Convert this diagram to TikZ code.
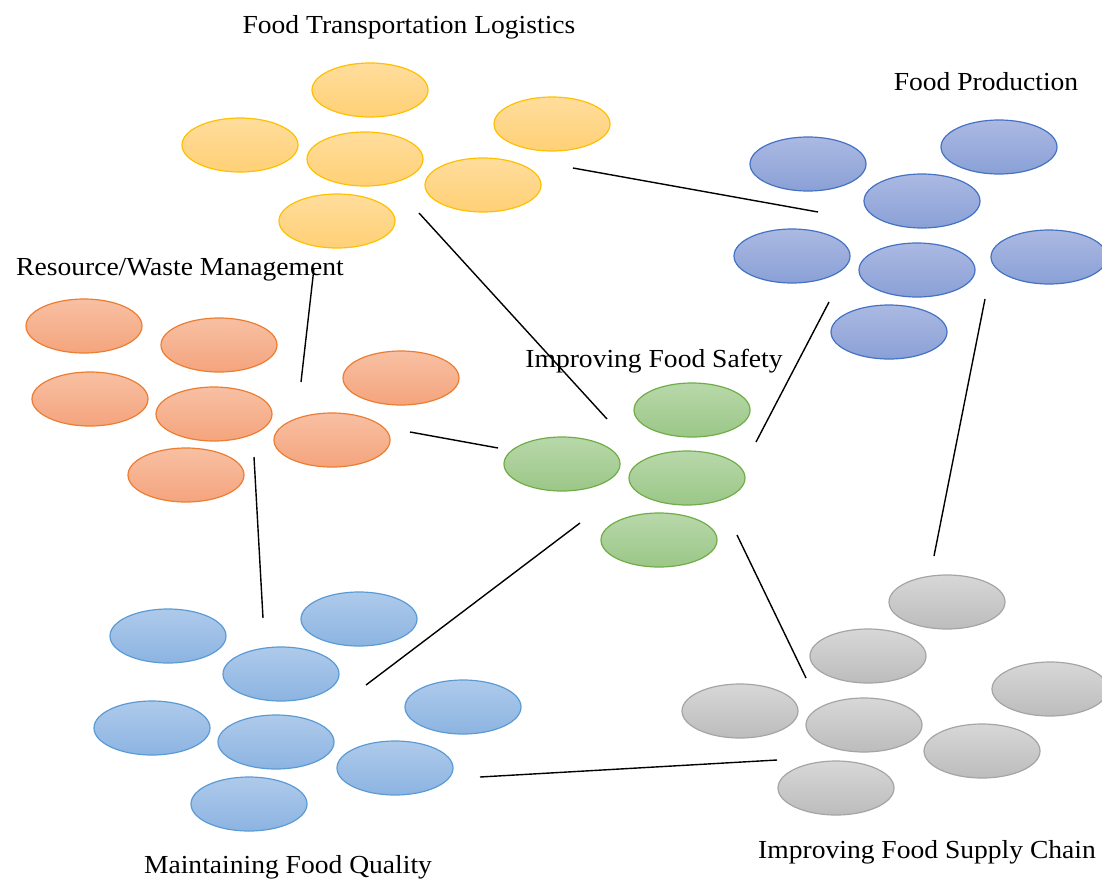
\documentclass[tikz,border=0pt]{standalone}
\usepackage{fontspec}
\setmainfont{Liberation Serif}
\newfontfamily\clusterfont[FakeStretch=1.06]{Liberation Serif}
\usepackage{xcolor}
\usepackage{tikz}
\usetikzlibrary{shapes.geometric}

\definecolor{transTop}{RGB}{255,221,156}
\definecolor{transBot}{RGB}{255,208,118}
\definecolor{transLine}{RGB}{255,192,0}
\definecolor{prodTop}{RGB}{171,185,226}
\definecolor{prodBot}{RGB}{138,160,214}
\definecolor{prodLine}{RGB}{68,114,196}
\definecolor{wasteTop}{RGB}{248,192,163}
\definecolor{wasteBot}{RGB}{244,164,125}
\definecolor{wasteLine}{RGB}{237,125,49}
\definecolor{safeTop}{RGB}{184,216,170}
\definecolor{safeBot}{RGB}{155,199,135}
\definecolor{safeLine}{RGB}{112,173,71}
\definecolor{qualTop}{RGB}{174,202,235}
\definecolor{qualBot}{RGB}{140,180,225}
\definecolor{qualLine}{RGB}{91,155,213}
\definecolor{chainTop}{RGB}{215,215,215}
\definecolor{chainBot}{RGB}{188,188,188}
\definecolor{chainLine}{RGB}{165,165,165}

\begin{document}
\begin{tikzpicture}[x=1pt, y=-1pt,
      blob/.style={ellipse, minimum width=116pt, minimum height=54pt, inner sep=0pt, line width=1.2pt, shading=axis},
      transport/.style={blob, draw=transLine, top color=transTop, bottom color=transBot},
      production/.style={blob, draw=prodLine, top color=prodTop, bottom color=prodBot},
      waste/.style={blob, draw=wasteLine, top color=wasteTop, bottom color=wasteBot},
      safety/.style={blob, draw=safeLine, top color=safeTop, bottom color=safeBot},
      quality/.style={blob, draw=qualLine, top color=qualTop, bottom color=qualBot},
      supply/.style={blob, draw=chainLine, top color=chainTop, bottom color=chainBot},
      title/.style={anchor=base, inner sep=0pt, font=\clusterfont\fontsize{26}{30}\selectfont},
      link/.style={line width=1.4pt}]

    \useasboundingbox (0,0) rectangle (1102,881);

    % clusters of ellipses
    \foreach \x/\y [count=\i] in {370/90, 240/145, 552/124, 365/159, 483/185, 337/221}
      \node[transport] (trans\i) at (\x,\y) {};
    \foreach \x/\y [count=\i] in {808/164, 999/147, 922/201, 792/256, 917/270, 1049/257, 889/332}
      \node[production] (prod\i) at (\x,\y) {};
    \foreach \x/\y [count=\i] in {84/326, 219/345, 401/378, 90/399, 214/414, 332/440, 186/475}
      \node[waste] (waste\i) at (\x,\y) {};
    \foreach \x/\y [count=\i] in {692/410, 562/464, 687/478, 659/540}
      \node[safety] (safe\i) at (\x,\y) {};
    \foreach \x/\y [count=\i] in {168/636, 359/619, 281/674, 463/707, 152/728, 276/742, 395/768, 249/804}
      \node[quality] (qual\i) at (\x,\y) {};
    \foreach \x/\y [count=\i] in {947/602, 868/656, 1050/689, 740/711, 864/725, 982/751, 836/788}
      \node[supply] (chain\i) at (\x,\y) {};

    % cluster titles
    \node[title] (transT) at (409,33) {Food Transportation Logistics};
    \node[title] (prodT) at (986,90) {Food Production};
    \node[title] (wasteT) at (180,275) {Resource/Waste Management};
    \node[title] (safeT) at (654,367) {Improving Food Safety};
    \node[title] (qualT) at (288,873) {Maintaining Food Quality};
    \node[title, anchor=base west] (chainT) at (758,858) {Improving Food Supply Chain};

    % loose ends of the links
    \coordinate (transE) at (573,168);
    \coordinate (transS) at (419,213);
    \coordinate (transW) at (314,268);
    \coordinate (prodW) at (818,212);
    \coordinate (prodS) at (829,302);
    \coordinate (prodE) at (985,299);
    \coordinate (wasteN) at (301,382);
    \coordinate (wasteE) at (410,432);
    \coordinate (wasteS) at (254,457);
    \coordinate (safeN) at (607,419);
    \coordinate (safeW) at (498,448);
    \coordinate (safeNE) at (756,442);
    \coordinate (safeSW) at (580,523);
    \coordinate (safeSE) at (737,535);
    \coordinate (qualN) at (263,618);
    \coordinate (qualNE) at (366,685);
    \coordinate (qualE) at (480,777);
    \coordinate (chainN) at (934,556);
    \coordinate (chainNW) at (806,678);
    \coordinate (chainW) at (777,760);

    \draw[link] (transE) -- (prodW);
    \draw[link] (transS) -- (safeN);
    \draw[link] (transW) -- (wasteN);
    \draw[link] (wasteE) -- (safeW);
    \draw[link] (wasteS) -- (qualN);
    \draw[link] (safeSW) -- (qualNE);
    \draw[link] (safeNE) -- (prodS);
    \draw[link] (safeSE) -- (chainNW);
    \draw[link] (prodE) -- (chainN);
    \draw[link] (qualE) -- (chainW);
  \end{tikzpicture}
\end{document}
